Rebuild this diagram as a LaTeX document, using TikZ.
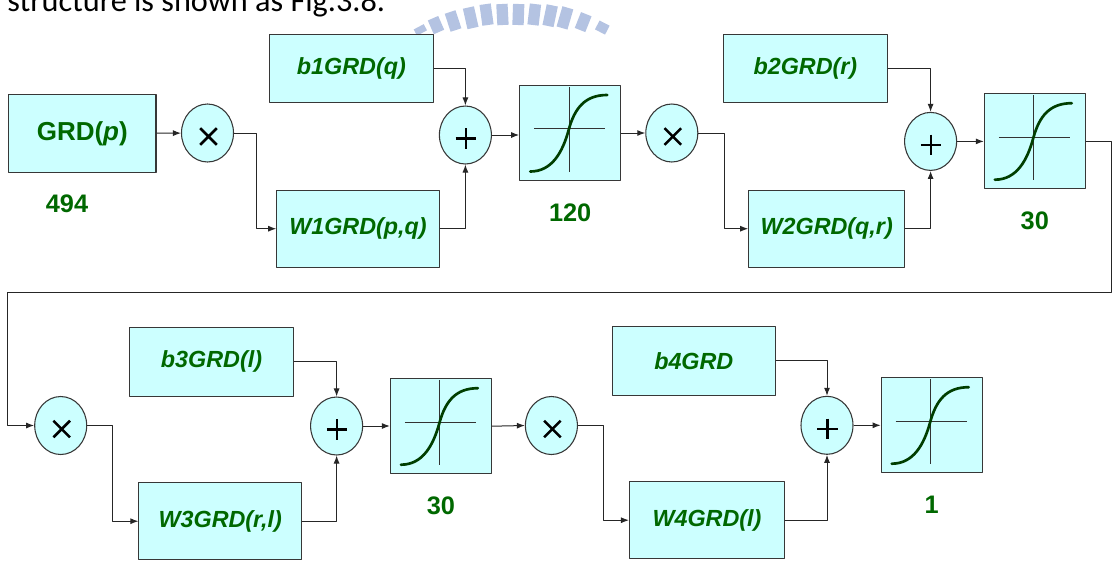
\documentclass[tikz,border=0pt]{standalone}
\usepackage{fontspec}
\setmainfont{Liberation Sans}
\newfontfamily\capfont{Carlito}
\usetikzlibrary{positioning,shapes.geometric,arrows.meta}
\definecolor{boxfill}{RGB}{204,255,255}
\definecolor{lblgreen}{RGB}{0,104,0}
\definecolor{curvegreen}{RGB}{0,62,0}
\definecolor{logoblue}{RGB}{180,195,226}
\definecolor{boxline}{RGB}{55,55,55}
\begin{document}
\begin{tikzpicture}[x=0.75pt, y=-0.75pt, line join=round, >={Latex[length=6pt,width=4.5pt]},
    blk/.style={draw=boxline, line width=0.8pt, fill=boxfill, inner sep=0pt, text=lblgreen, font=\fontsize{17.5}{20}\selectfont\bfseries\itshape},
    bbox/.style={blk, minimum width=122.6pt, minimum height=51.3pt},
    wbox/.style={blk, minimum width=121.9pt, minimum height=58pt},
    sigbox/.style={blk, minimum width=75.75pt, minimum height=70.9pt},
    op/.style={ellipse, draw=boxline, line width=0.8pt, fill=boxfill, inner sep=0pt, minimum width=39pt, minimum height=43.5pt},
    opsym/.style={line width=1.9pt, draw=black},
    num/.style={text=lblgreen, inner sep=0pt, font=\fontsize{19}{22}\selectfont\bfseries},
    arr/.style={->, line width=0.75pt, draw=black!85},
    axis/.style={line width=0.75pt, draw=black!80},
    sig/.style={line width=2pt, draw=curvegreen, line cap=round}]
    \useasboundingbox (0,0) rectangle (1113,562);
    \begin{scope}
        \clip (0,0) rectangle (1113,562);
        \node[anchor=base west, inner sep=0pt, font=\capfont\fontsize{24.2}{26}\selectfont] (cap) at (7,11) {structure is shown as Fig.3.8.};
        \foreach \xa/\ya/\xb/\yb in {422/33/418.7/26.8, 439/32/433/18.2, 456/30/450.1/12, 473/28/468.4/7.5, 488/25/485.1/4.2, 503/25/501.9/4, 518/25/518.7/4, 533/25/535.5/4.1, 548/26/552.3/5.4, 562/28/567.9/7.8, 580/30/586.3/14.2, 600/32/604.6/23.1}
            \draw[logoblue, line width=8.5pt] (\xa,\ya) -- (\xb,\yb);
    \end{scope}

    \node[blk, minimum width=110.5pt, minimum height=59pt, font=\fontsize{19.5}{22}\selectfont\bfseries] (grd) at (82.3,133.4) {GRD(\textit{p})};
    \node[num] (n0) at (67,204) {494};
    \node[op] (m1) at (207.5,133) {};
    \node[bbox] (b1) at (351.4,68.5) {b1GRD(q)};
    \node[wbox] (w1) at (358,228.7) {W1GRD(p,q)};
    \node[op] (a1) at (465.4,135) {};
    \node[sigbox] (s1) at (570.2,133) {};
    \node[num, below=17pt of s1] (n1) {120};
    \node[op] (m2) at (671.8,133) {};
    \node[bbox] (b2) at (805.4,68.5) {b2GRD(r)};
    \node[wbox, minimum width=117pt] (w2) at (826.7,228.7) {W2GRD(q,r)};
    \node[op] (a2) at (930.6,141.4) {};
    \node[sigbox] (s2) at (1034.8,141.2) {};
    \node[num, below=17pt of s2] (n2) {30};

    \node[op] (m3) at (60.7,425.5) {};
    \node[bbox] (b3) at (211.5,361.9) {b3GRD(l)};
    \node[wbox] (w3) at (220.2,521.2) {W3GRD(r,l)};
    \node[op] (a3) at (336.6,426) {};
    \node[sigbox] (s3) at (440.9,426.2) {};
    \node[num, below=17pt of s3] (n3) {30};
    \node[op] (m4) at (551.4,425.5) {};
    \node[bbox] (b4) at (693.8,360.9) {b4GRD};
    \node[wbox, minimum width=116.3pt] (w4) at (707,520.2) {W4GRD(l)};
    \node[op] (a4) at (827,425.3) {};
    \node[sigbox] (s4) at (931.7,425.2) {};
    \node[num, below=17pt of s4] (n4) {1};

    \foreach \n in {m1,m2,m3,m4}
        \draw[opsym] ([shift={(-7.3,-4.8)}]\n.center) -- ++(16.6,16.6) ([shift={(-7.3,11.8)}]\n.center) -- ++(16.6,-16.6);
    \foreach \n in {a1,a2,a3,a4}
        \draw[opsym] ([shift={(-9.8,3.5)}]\n.center) -- ++(20.6,0) ([shift={(0.5,-6.8)}]\n.center) -- ++(0,20.6);

    \foreach \s in {s1,s2,s3,s4}{
        \begin{scope}[shift={(\s.center)}]
            \draw[axis] (-36,-4.2) -- (35,-4.2);
            \draw[axis] (-1,-46) -- (-1,38.5);
            \draw[sig] (-40,38.5) .. controls (-18,38.5) and (-7.5,18.8) .. (-1.5,-3.2) .. controls (4.5,-25.2) and (15,-38) .. (37,-38);
        \end{scope}
    }

    \coordinate (ret) at (7,292.3);
    \draw[arr] (grd) -- (m1);
    \draw[arr] (m1.east) -- ++(22,0) |- (w1.west);
    \draw[arr] (b1.east) -| (a1.north);
    \draw[arr] (w1.east) -| (a1.south);
    \draw[arr] (a1.east) -- (s1.west |- a1.east);
    \draw[arr] (s1.east) -- (m2.west);
    \draw[arr] (m2.east) -- ++(26.4,0) |- (w2.west);
    \draw[arr] (b2.east) -| (a2.north);
    \draw[arr] (w2.east) -| (a2.south);
    \draw[arr] (a2.east) -- (s2.west |- a2.east);
    \draw[arr] (s2.east) -- ++(26,0) |- (ret) |- (m3.west);
    \draw[arr] (m3.east) -- ++(25.7,0) |- (w3.west);
    \draw[arr] (b3.east) -| (a3.north);
    \draw[arr] (w3.east) -| (a3.south);
    \draw[arr] (a3.east) -- (s3.west |- a3.east);
    \draw[arr] (s3.east) -- (m4.west);
    \draw[arr] (m4.east) -- ++(26,0) |- (w4.west);
    \draw[arr] (b4.east) -| (a4.north);
    \draw[arr] (w4.east) -| (a4.south);
    \draw[arr] (a4.east) -- (s4.west |- a4.east);
\end{tikzpicture}
\end{document}
